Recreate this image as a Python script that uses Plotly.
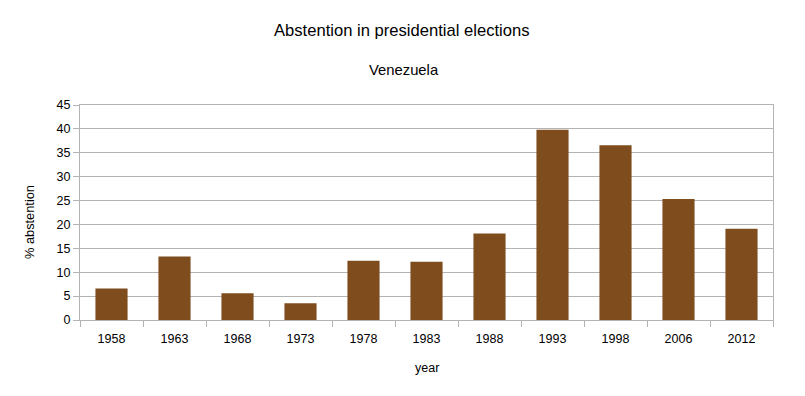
import plotly.graph_objects as go

years = ["1958", "1963", "1968", "1973", "1978", "1983", "1988", "1993", "1998", "2006", "2012"]
abstention = [6.6, 13.3, 5.6, 3.5, 12.4, 12.2, 18.1, 39.8, 36.6, 25.3, 19.1]

title_text = "Abstention in presidential elections"
subtitle_text = "Venezuela"
x_title = "year"
y_title = "% abstention"

FONT = "Liberation Sans, Arial, sans-serif"
GRID = "#b3b3b3"

fig = go.Figure(go.Bar(x=years, y=abstention, marker=dict(color="#7f4c1e", line=dict(width=0))))

OFF = 8  # page body margin
W, H = 805, 396
# desired screen coords of plot area: left 80, right 773, top 105, bottom 320
L = 80 - OFF
R = W - (773 - OFF)
T = 105 - OFF
B = H - (320 - OFF)
ph = H - T - B
pw = W - L - R

def py(pix):
    return (H - B - (pix - OFF)) / ph

def px(pix):
    return (pix - OFF - L) / pw

fig.update_layout(
    width=W, height=H,
    margin=dict(l=L, r=R, t=T, b=B),
    paper_bgcolor="white", plot_bgcolor="white",
    font=dict(family=FONT, color="#000000", size=12.5),
    showlegend=False,
    bargap=0.49,
    annotations=[
        dict(text=title_text, x=px(402), y=py(30), xref="paper", yref="paper",
             showarrow=False, font=dict(size=16.6, family=FONT), xanchor="center", yanchor="middle"),
        dict(text=subtitle_text, x=px(404), y=py(70), xref="paper", yref="paper",
             showarrow=False, font=dict(size=14.8, family=FONT), xanchor="center", yanchor="middle"),
        dict(text=x_title, x=px(427), y=py(368), xref="paper", yref="paper",
             showarrow=False, font=dict(size=12.5, family=FONT), xanchor="center", yanchor="middle"),
        dict(text=y_title, x=px(29), y=py(222), xref="paper", yref="paper",
             showarrow=False, font=dict(size=12.8, family=FONT), textangle=-90,
             xanchor="center", yanchor="middle"),
    ],
    xaxis=dict(
        type="category", showgrid=False, showline=True, mirror=True, linecolor=GRID, linewidth=1,
        ticks="outside", tickson="boundaries", ticklen=6, tickcolor=GRID, tickwidth=1,
        ticklabelstandoff=7,
        tickfont=dict(size=12.5, family=FONT), fixedrange=True,
    ),
    yaxis=dict(
        range=[0, 45], dtick=5, tick0=0, showgrid=True, gridcolor=GRID, gridwidth=1,
        showline=True, mirror=True, linecolor=GRID, linewidth=1, zeroline=False,
        ticks="outside", ticklen=6, tickcolor=GRID, tickwidth=1,
        tickfont=dict(size=12.5, family=FONT), fixedrange=True,
    ),
)

fig.write_html("out.html", config={"displayModeBar": False})
